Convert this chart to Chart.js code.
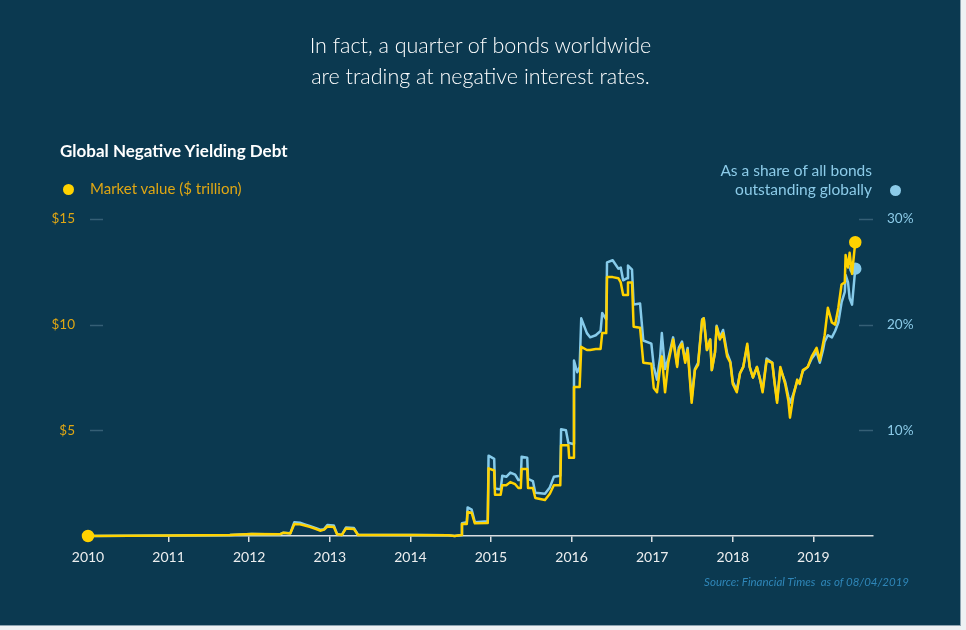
<!DOCTYPE html>
<html lang="en">
  <head>
    <meta charset="UTF-8" />
    <title>Global Negative Yielding Debt</title>
    <script src="https://cdn.jsdelivr.net/npm/chart.js"></script>
    <style>
      body {
        margin: 0;
        background: #eef1f3;
        font-family: Lato, "Open Sans", sans-serif;
      }
      #panel {
        position: relative;
        width: 961px;
        height: 626px;
        background: #0b3950;
        border-right: 1px solid #8ea3b0;
        border-bottom: 1px solid #8ea3b0;
        box-sizing: border-box;
        overflow: hidden;
      }
      canvas {
        position: absolute;
        left: 0;
        top: 0;
      }
      .txt {
        position: absolute;
        white-space: nowrap;
      }
      #headline {
        left: 0;
        width: 961px;
        top: 30px;
        text-align: center;
        color: #ffffff;
        font-weight: 300;
        font-size: 21.5px;
        line-height: 31px;
      }
      #subtitle {
        left: 60px;
        top: 140px;
        color: #ffffff;
        font-weight: 700;
        font-size: 17px;
      }
      #legLeft {
        left: 90px;
        top: 179px;
        color: #e0a713;
        font-size: 15px;
      }
      #legRight {
        right: 88px;
        top: 161px;
        color: #8ccbe8;
        font-size: 15.5px;
        line-height: 19px;
        text-align: right;
      }
      .dot {
        position: absolute;
        width: 11px;
        height: 11px;
        border-radius: 50%;
      }
      #source {
        right: 51px;
        top: 575px;
        color: #2f86b8;
        font-style: italic;
        font-size: 11.5px;
        white-space: pre;
      }
    </style>
  </head>
  <body>
    <div id="panel">
      <canvas id="debtChart" width="961" height="626"></canvas>
      <div class="txt" id="headline">
        In fact, a quarter of bonds worldwide<br />are trading at negative interest rates.
      </div>
      <div class="txt" id="subtitle">Global Negative Yielding Debt</div>
      <div class="dot" style="left: 63px; top: 184px; background: #ffd200"></div>
      <div class="txt" id="legLeft">Market value ($ trillion)</div>
      <div class="txt" id="legRight">As a share of all bonds<br />outstanding globally</div>
      <div class="dot" style="left: 890px; top: 185px; background: #8ccbe8"></div>
      <div class="txt" id="source">Source: Financial Times  as of 08/04/2019</div>
    </div>

    <script>
      // decimal years
      const dates = [
        2010.0, 2011.02, 2011.76, 2012.03, 2012.38, 2012.42, 2012.51, 2012.56, 2012.63, 2012.69,
        2012.75, 2012.83, 2012.88, 2012.93, 2012.97, 2013.05, 2013.09, 2013.15, 2013.2, 2013.3,
        2013.35,
        2014.0, 2014.47, 2014.55, 2014.63, 2014.64, 2014.7, 2014.71, 2014.76, 2014.8, 2014.96,
        2014.97, 2015.04, 2015.05, 2015.12, 2015.14, 2015.19, 2015.24, 2015.3, 2015.34, 2015.37,
        2015.38, 2015.45, 2015.46, 2015.52, 2015.55, 2015.67, 2015.73, 2015.78, 2015.86, 2015.87,
        2015.93, 2015.96, 2015.97, 2016.02,
        2016.03, 2016.07, 2016.1, 2016.12, 2016.19, 2016.23, 2016.3, 2016.36, 2016.38, 2016.43,
        2016.44, 2016.51, 2016.58, 2016.61, 2016.64, 2016.69, 2016.7, 2016.75, 2016.77, 2016.85,
        2016.89, 2016.99,
        2017.02, 2017.06, 2017.1, 2017.12, 2017.16, 2017.2, 2017.26, 2017.31, 2017.33, 2017.37,
        2017.41, 2017.44, 2017.49, 2017.53, 2017.57, 2017.62, 2017.64, 2017.68, 2017.72, 2017.74,
        2017.78, 2017.8, 2017.84, 2017.88, 2017.93, 2017.97,
        2018.0, 2018.05, 2018.09, 2018.13, 2018.18, 2018.21, 2018.25, 2018.3, 2018.34, 2018.37,
        2018.42, 2018.49, 2018.52, 2018.55, 2018.59, 2018.65, 2018.69, 2018.71, 2018.75, 2018.8,
        2018.83, 2018.87, 2018.93, 2018.98,
        2019.04, 2019.08, 2019.12, 2019.14, 2019.18, 2019.23, 2019.27, 2019.31, 2019.35, 2019.39,
        2019.4, 2019.43, 2019.45, 2019.48, 2019.52,
      ];

      // $ trillion
      const marketValue = [
        0, 0.02, 0.05, 0.1, 0.08, 0.15, 0.12, 0.57, 0.55, 0.5,
        0.43, 0.33, 0.25, 0.3, 0.45, 0.43, 0.08, 0.05, 0.35, 0.33,
        0.05,
        0.05, 0.04, 0, 0.05, 0.57, 0.57, 1.14, 1.1, 0.6, 0.62,
        3.2, 3.1, 1.95, 1.95, 2.4, 2.4, 2.55, 2.45, 2.27, 2.27,
        3.17, 3.17, 2.27, 2.27, 1.8, 1.7, 2.0, 2.4, 2.4, 4.3,
        4.3, 4.3, 3.7, 3.7,
        7.05, 7.05, 7.05, 8.95, 8.8, 8.8, 8.85, 8.85, 9.6, 9.6,
        12.26, 12.25, 12.2, 12.0, 11.4, 11.4, 12.0, 12.0, 9.9, 9.85,
        8.2, 8.15,
        7.0, 6.8, 8.0, 8.5, 6.8, 8.2, 9.3, 8.0, 8.8, 9.1,
        8.2, 8.8, 6.3, 7.85, 8.1, 10.2, 10.3, 8.8, 9.3, 7.85,
        8.7, 9.9, 9.3, 9.6, 8.5, 8.2,
        7.2, 6.8, 7.7, 8.0, 9.1, 8.0, 7.5, 8.0, 7.4, 6.8,
        8.3, 8.2, 7.2, 6.3, 8.0, 7.2, 6.4, 5.6, 6.6, 7.4,
        7.2, 7.85, 8.0, 8.5,
        8.9, 8.3, 9.1, 9.5, 10.8, 10.1, 10.0, 10.8, 11.9, 12.0,
        13.3, 12.7, 13.4, 12.4, 13.9,
      ];

      // % of all bonds outstanding
      const sharePct = [
        0, 0.05, 0.1, 0.2, 0.15, 0.3, 0.25, 1.3, 1.25, 1.1,
        0.95, 0.75, 0.6, 0.65, 1.05, 1.0, 0.2, 0.1, 0.8, 0.75,
        0.12,
        0.1, 0.08, 0, 0.1, 1.2, 1.3, 2.7, 2.5, 1.3, 1.4,
        7.6, 7.3, 4.5, 4.4, 5.7, 5.6, 6.0, 5.8, 5.3, 5.3,
        7.5, 7.4, 5.4, 5.2, 4.1, 4.0, 4.6, 5.6, 5.7, 10.1,
        10.0, 8.8, 8.8, 8.7,
        16.6, 15.5, 16.0, 20.6, 19.2, 18.8, 19.0, 19.4, 21.1, 20.5,
        25.9, 26.1, 25.3, 25.4, 24.2, 24.4, 25.6, 25.2, 21.9, 22.0,
        18.5, 18.2,
        16.0, 14.8, 17.0, 19.2, 15.8, 16.8, 18.8, 16.2, 17.8, 18.4,
        16.6, 17.8, 13.0, 15.8, 16.4, 20.5, 20.6, 17.6, 18.6, 15.7,
        17.4, 19.9, 18.8, 19.5, 17.3, 16.5,
        14.6, 13.8, 15.4, 16.0, 18.0, 16.0, 15.0, 16.0, 14.8, 13.8,
        16.8, 16.4, 14.5, 12.8, 15.8, 14.6, 13.2, 12.6, 13.4, 14.6,
        14.6, 15.6, 16.0, 16.8,
        17.4, 16.4, 17.6, 18.4, 19.0, 18.8, 19.4, 20.2, 22.1, 23.1,
        24.7, 24.0, 22.5, 21.9, 25.3,
      ];

      const yearTicks = [2010, 2011, 2012, 2013, 2014, 2015, 2016, 2017, 2018, 2019];
      const valueTicks = [5, 10, 15];
      const shareTicks = [10, 20, 30];

      const YELLOW = "#ffd200";
      const BLUE = "#86cbea";
      const last = dates.length - 1;

      // short dashes next to the y tick labels, inside the plot
      const tickDashes = {
        id: "tickDashes",
        afterDraw(chart) {
          const { ctx, chartArea, scales } = chart;
          ctx.save();
          ctx.strokeStyle = "#355f75";
          ctx.lineWidth = 1.5;
          valueTicks.forEach((v) => {
            const y = Math.round(scales.y.getPixelForValue(v)) + 0.5;
            ctx.beginPath();
            ctx.moveTo(chartArea.left + 2, y);
            ctx.lineTo(chartArea.left + 15, y);
            ctx.stroke();
          });
          shareTicks.forEach((v) => {
            const y = Math.round(scales.y1.getPixelForValue(v)) + 0.5;
            ctx.beginPath();
            ctx.moveTo(chartArea.right - 14, y);
            ctx.lineTo(chartArea.right, y);
            ctx.stroke();
          });
          ctx.restore();
        },
      };

      new Chart(document.getElementById("debtChart"), {
        type: "line",
        data: {
          datasets: [
            {
              label: "Market value ($ trillion)",
              data: dates.map((d, i) => ({ x: d, y: marketValue[i] })),
              yAxisID: "y",
              borderColor: YELLOW,
              backgroundColor: YELLOW,
              borderWidth: 2.5,
              borderJoinStyle: "round",
              tension: 0,
              clip: false,
              pointRadius: (c) => (c.dataIndex === 0 || c.dataIndex === last ? 5 : 0),
              pointHoverRadius: 0,
            },
            {
              label: "As a share of all bonds outstanding globally",
              data: dates.map((d, i) => ({ x: d, y: sharePct[i] })),
              yAxisID: "y1",
              borderColor: BLUE,
              backgroundColor: BLUE,
              borderWidth: 2.5,
              borderJoinStyle: "round",
              tension: 0,
              clip: false,
              pointRadius: (c) => (c.dataIndex === last ? 5 : 0),
              pointHoverRadius: 0,
            },
          ],
        },
        options: {
          responsive: false,
          animation: false,
          layout: { padding: { top: 219, left: 0, right: 0, bottom: 0 } },
          plugins: {
            legend: { display: false },
            tooltip: { enabled: false },
          },
          scales: {
            x: {
              type: "linear",
              min: 2010,
              max: 2019.74,
              afterBuildTicks: (s) => {
                s.ticks = yearTicks.map((v) => ({ value: v }));
              },
              afterFit: (s) => {
                s.height = 90;
              },
              border: { display: true, color: "#d9dde0", width: 1.5 },
              grid: {
                drawOnChartArea: false,
                drawTicks: true,
                tickLength: 6,
                color: "#d9dde0",
                lineWidth: 1.5,
              },
              ticks: {
                color: "#eceeef",
                padding: 7,
                font: { family: "Lato", size: 14 },
                callback: (v) => String(v),
              },
            },
            y: {
              position: "left",
              min: 0,
              max: 15,
              afterBuildTicks: (s) => {
                s.ticks = valueTicks.map((v) => ({ value: v }));
              },
              afterFit: (s) => {
                s.width = 88;
              },
              border: { display: false },
              grid: { display: false, drawTicks: false },
              ticks: {
                color: "#e0a713",
                padding: 13,
                font: { family: "Lato", size: 13.5 },
                callback: (v) => "$" + v,
              },
            },
            y1: {
              position: "right",
              min: 0,
              max: 30,
              afterBuildTicks: (s) => {
                s.ticks = shareTicks.map((v) => ({ value: v }));
              },
              afterFit: (s) => {
                s.width = 88;
              },
              border: { display: false },
              grid: { display: false, drawTicks: false },
              ticks: {
                color: "#8ccbe8",
                padding: 14,
                font: { family: "Lato", size: 13.5 },
                callback: (v) => v + "%",
              },
            },
          },
        },
        plugins: [tickDashes],
      });
    </script>
  </body>
</html>
